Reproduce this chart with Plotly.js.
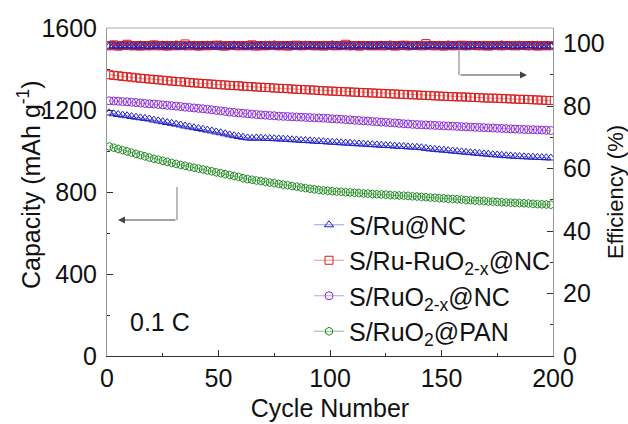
<!DOCTYPE html>
<html><head><meta charset="utf-8">
<script src="https://cdn.plot.ly/plotly-3.0.1.min.js"></script>
<style>html,body{margin:0;padding:0;background:#fff}#chart{width:628px;height:424px}</style>
</head><body><div id="chart"></div>
<script>
// Cycle numbers (every second cycle)
const cycles = [1,3,5,7,9,11,13,15,17,19,21,23,25,27,29,31,33,35,37,39,
41,43,45,47,49,51,53,55,57,59,61,63,65,67,69,71,73,75,77,79,
81,83,85,87,89,91,93,95,97,99,101,103,105,107,109,111,113,115,117,119,
121,123,125,127,129,131,133,135,137,139,141,143,145,147,149,151,153,155,157,159,
161,163,165,167,169,171,173,175,177,179,181,183,185,187,189,191,193,195,197,199];

const seriesNames = ['S/Ru@NC','S/Ru-RuO<sub>2-x</sub>@NC','S/RuO<sub>2-x</sub>@NC','S/RuO<sub>2</sub>@PAN'];

// Capacity (mAh g-1)
const capRu = [1186,1182,1178,1175,1172,1168,1165,1162,1159,1156,
1151,1147,1143,1139,1135,1131,1127,1122,1118,1114,
1110,1106,1102,1098,1093,1089,1084,1079,1075,1071,
1067,1064,1062,1064,1063,1062,1061,1060,1059,1058,
1057,1055,1054,1052,1051,1050,1048,1047,1046,1044,
1043,1042,1040,1039,1038,1036,1035,1034,1032,1031,
1030,1028,1027,1026,1024,1023,1022,1020,1019,1018,
1016,1013,1010,1008,1006,1004,1002,1000,998,996,
994,992,990,988,986,984,982,981,979,977,
976,974,973,972,971,970,969,968,967,966];

const capRuRuO2x = [1372,1369,1367,1364,1362,1360,1357,1355,1353,1351,
1349,1347,1345,1343,1341,1339,1338,1336,1334,1332,
1331,1329,1328,1326,1325,1323,1322,1320,1319,1318,
1316,1315,1314,1312,1311,1310,1309,1307,1306,1305,
1304,1302,1301,1300,1299,1298,1297,1295,1294,1293,
1292,1291,1290,1289,1288,1287,1286,1285,1284,1283,
1282,1281,1280,1279,1278,1277,1276,1275,1274,1273,
1272,1271,1270,1269,1268,1267,1266,1265,1264,1264,
1263,1262,1261,1260,1259,1258,1258,1257,1256,1255,
1254,1253,1252,1252,1251,1250,1249,1248,1247,1246];

const capRuO2x = [1245,1244,1243,1241,1240,1238,1236,1234,1232,1230,
1229,1227,1225,1223,1221,1219,1217,1214,1212,1210,
1208,1206,1204,1201,1198,1196,1193,1190,1188,1186,
1184,1182,1180,1178,1176,1175,1173,1172,1170,1169,
1168,1167,1166,1165,1164,1163,1162,1161,1160,1159,
1157,1156,1155,1153,1152,1150,1149,1147,1146,1144,
1143,1141,1140,1138,1137,1135,1133,1132,1130,1129,
1128,1127,1126,1125,1124,1123,1122,1121,1120,1119,
1118,1117,1116,1115,1114,1113,1112,1111,1110,1109,
1108,1107,1106,1105,1104,1104,1103,1102,1101,1100];

const capRuO2PAN = [1022,1016,1010,1004,998,992,986,980,974,968,
962,958,952,947,942,937,932,928,923,919,
914,910,905,901,896,892,887,883,878,874,
867,863,860,856,853,850,846,843,839,836,
833,829,826,822,819,816,813,810,808,806,
804,802,801,799,798,796,795,793,792,790,
789,788,787,785,784,783,782,781,779,778,
776,775,773,772,770,769,767,766,765,763,
761,760,758,757,756,754,753,752,750,749,
748,747,746,745,744,742,741,740,739,738];

// Coulombic efficiency (%)
const effRu = [99.2,99.3,99.1,99.4,99.2,99.3,99.0,99.4,99.2,99.1,
99.3,99.2,99.4,99.1,99.3,99.2,99.0,99.3,99.4,99.2,
99.1,99.3,99.2,99.4,98.9,99.3,99.2,99.1,99.4,99.3,
99.2,99.0,99.3,99.2,99.4,99.1,99.3,99.2,99.1,99.4,
99.3,99.2,99.0,99.3,99.1,99.4,99.2,99.3,99.1,99.2,
99.4,99.3,99.1,99.2,99.3,99.0,99.4,99.2,99.3,99.1,
99.2,99.4,99.3,99.1,99.2,99.3,99.4,99.2,99.0,99.3,
99.2,99.1,99.4,99.3,99.2,99.3,99.1,99.4,99.2,99.3,
99.1,99.2,99.3,99.4,99.2,99.1,99.3,99.2,99.4,99.3,
99.2,99.1,99.3,99.2,99.4,99.3,99.1,99.2,99.3,99.2];

const effRuRuO2x = [99.3,99.6,99.2,99.4,99.8,99.3,99.4,99.2,99.4,99.3,
99.6,99.3,99.4,99.2,99.4,99.3,99.4,99.9,99.3,99.4,
99.2,99.4,99.3,99.4,99.5,99.3,99.2,99.4,99.4,99.3,
99.4,99.3,99.6,99.2,99.4,99.3,99.4,99.4,99.3,99.4,
99.2,99.4,99.5,99.3,99.4,99.4,99.3,99.4,99.2,99.4,
99.4,99.3,99.4,99.8,99.3,99.4,99.2,99.4,99.4,99.3,
99.4,99.3,99.4,99.4,99.2,99.4,99.5,99.3,99.4,99.4,
99.3,100.0,99.4,99.3,99.4,99.2,99.4,99.3,99.4,99.5,
99.3,99.4,99.4,99.3,99.4,99.2,99.4,99.4,99.3,99.4,
99.4,99.3,99.4,99.4,99.3,99.4,99.2,99.4,99.3,99.4];

const effRuO2x = [99.4,99.5,99.3,99.4,99.6,99.3,99.4,99.5,99.4,99.3,
99.5,99.4,99.3,99.5,99.4,99.6,99.4,99.3,99.4,99.5,
99.4,99.3,99.5,99.4,99.4,99.6,99.3,99.4,99.5,99.4,
99.3,99.4,99.5,99.4,99.3,99.5,99.4,99.6,99.4,99.3,
99.4,99.5,99.4,99.3,99.5,99.4,99.4,99.3,99.5,99.4,
99.6,99.4,99.3,99.4,99.5,99.4,99.3,99.5,99.4,99.4,
99.3,99.5,99.4,99.6,99.4,99.3,99.4,99.5,99.4,99.3,
99.5,99.4,99.4,99.3,99.5,99.4,99.6,99.4,99.3,99.4,
99.4,99.5,99.3,99.4,99.5,99.4,99.3,99.4,99.6,99.4,
99.3,99.4,99.5,99.4,99.3,99.4,99.5,99.4,99.4,99.3];

const effRuO2PAN = [99.3,99.4,99.2,99.3,99.5,99.3,99.2,99.4,99.3,99.2,
99.4,99.3,99.5,99.2,99.3,99.4,99.3,99.2,99.4,99.3,
99.2,99.3,99.4,99.3,99.5,99.2,99.3,99.4,99.3,99.2,
99.3,99.4,99.2,99.3,99.4,99.3,99.5,99.3,99.2,99.4,
99.3,99.2,99.4,99.3,99.3,99.5,99.2,99.3,99.4,99.3,
99.2,99.4,99.3,99.3,99.2,99.4,99.5,99.3,99.2,99.3,
99.4,99.3,99.2,99.4,99.3,99.3,99.5,99.2,99.3,99.4,
99.3,99.2,99.3,99.4,99.3,99.2,99.4,99.3,99.5,99.3,
99.2,99.3,99.4,99.3,99.2,99.3,99.4,99.3,99.2,99.4,
99.3,99.3,99.2,99.4,99.3,99.5,99.3,99.2,99.3,99.4];

const xTicks = [0,50,100,150,200];
const yTicks = [0,400,800,1200,1600];
const y2Ticks = [0,20,40,60,80,100];

const colors = ['#2020c8','#d81c1c','#8a2ad8','#1e8a1e'];
const lineColors = ['rgba(80,80,210,0.55)','rgba(220,60,60,0.55)','rgba(150,70,220,0.55)','rgba(40,140,40,0.55)'];
const symbols = ['triangle-up-open','square-open','circle-open','hexagon-open'];
const caps = [capRu, capRuRuO2x, capRuO2x, capRuO2PAN];
const effs = [effRu, effRuRuO2x, effRuO2x, effRuO2PAN];

const FONT = 'Liberation Sans, Arial, sans-serif';
const traces = [];
// efficiency traces (blue drawn last, on top)
[3,2,1,0].forEach(i => {
  traces.push({x: cycles, y: effs[i], yaxis: 'y2', type: 'scatter', mode: 'markers',
    showlegend: false, hoverinfo: 'skip',
    marker: {symbol: symbols[i], size: 8, color: colors[i], line: {width: 1, color: colors[i]}}});
});
[0,1,2,3].forEach(i => {
  traces.push({x: cycles, y: caps[i], name: seriesNames[i], type: 'scatter', mode: 'lines+markers',
    line: {color: lineColors[i], width: 1},
    marker: {symbol: symbols[i], size: 8, color: colors[i], line: {width: 1, color: colors[i]}}});
});

const W = 628, H = 424, L = 107, R = 553, T = 28, B = 356;
const px = v => (v - L) / (R - L);
const py = v => (B - v) / (B - T);

const layout = {
  width: W, height: H,
  margin: {l: L, r: W - R, t: T, b: H - B, pad: 0},
  paper_bgcolor: '#fff', plot_bgcolor: '#fff',
  font: {family: FONT, color: '#111'},
  showlegend: true,
  legend: {x: px(309), y: py(202), xanchor: 'left', yanchor: 'top', bgcolor: 'rgba(0,0,0,0)',
    font: {size: 25, family: FONT, color: '#111'}, itemwidth: 30, tracegroupgap: 0},
  xaxis: {range: [0, 200], tickvals: xTicks, ticks: 'inside', ticklen: 6, tickwidth: 1, tickcolor: '#333',
    showline: true, linecolor: '#333', linewidth: 1, showgrid: false, zeroline: false,
    tickfont: {size: 25, family: FONT, color: '#111'},
    minor: {ticks: 'inside', ticklen: 3, dtick: 25, tick0: 0, tickcolor: '#333', showgrid: false},
    title: {text: 'Cycle Number', font: {size: 25, family: FONT, color: '#111'}, standoff: 8}},
  yaxis: {range: [0, 1600], tickvals: yTicks, ticks: 'inside', ticklen: 6, tickcolor: '#333',
    showline: true, linecolor: '#999', linewidth: 1, showgrid: false, zeroline: false,
    tickfont: {size: 25, family: FONT, color: '#111'}, ticklabelstandoff: 4,
    minor: {ticks: 'inside', ticklen: 3, dtick: 200, tick0: 0, tickcolor: '#333', showgrid: false}},
  yaxis2: {overlaying: 'y', side: 'right', range: [0, 105], tickvals: y2Ticks, ticks: 'inside', ticklen: 6, tickcolor: '#333',
    showline: true, linecolor: '#999', linewidth: 1, showgrid: false, zeroline: false,
    tickfont: {size: 25, family: FONT, color: '#111'}, ticklabelstandoff: 4,
    minor: {ticks: 'inside', ticklen: 3, dtick: 10, tick0: 0, tickcolor: '#333', showgrid: false},
    title: {text: 'Efficiency (%)', font: {size: 22, family: FONT, color: '#111'}, standoff: 14}},
  shapes: [
    {type: 'line', xref: 'paper', yref: 'paper', x0: 0, x1: 1, y0: 1, y1: 1, line: {color: '#aaa', width: 1}},
    {type: 'line', xref: 'paper', yref: 'paper', x0: px(177), x1: px(177), y0: py(187), y1: py(220), line: {color: '#777', width: 1}},
    {type: 'line', xref: 'paper', yref: 'paper', x0: px(459), x1: px(459), y0: py(43), y1: py(75), line: {color: '#777', width: 1}}
  ],
  annotations: [
    {text: 'Capacity (mAh g<sup>-1</sup>)', xref: 'paper', yref: 'paper', x: px(29), y: py(185), showarrow: false,
      textangle: -90, font: {size: 25, family: FONT, color: '#111'}, xanchor: 'center', yanchor: 'middle'},
    {text: '0.1 C', xref: 'paper', yref: 'paper', x: px(160), y: py(322), showarrow: false,
      font: {size: 25, family: FONT, color: '#111'}, xanchor: 'center', yanchor: 'middle'},
    {text: '', xref: 'paper', yref: 'paper', x: px(118), y: py(220), showarrow: true, axref: 'pixel', ayref: 'pixel',
      ax: 59, ay: 0, arrowhead: 2, arrowsize: 1.4, arrowwidth: 1, arrowcolor: '#444', standoff: 0},
    {text: '', xref: 'paper', yref: 'paper', x: px(527), y: py(75), showarrow: true, axref: 'pixel', ayref: 'pixel',
      ax: -68, ay: 0, arrowhead: 2, arrowsize: 1.4, arrowwidth: 1, arrowcolor: '#444', standoff: 0}
  ]
};

Plotly.newPlot('chart', traces, layout, {displayModeBar: false, staticPlot: true});
</script>
</body></html>
